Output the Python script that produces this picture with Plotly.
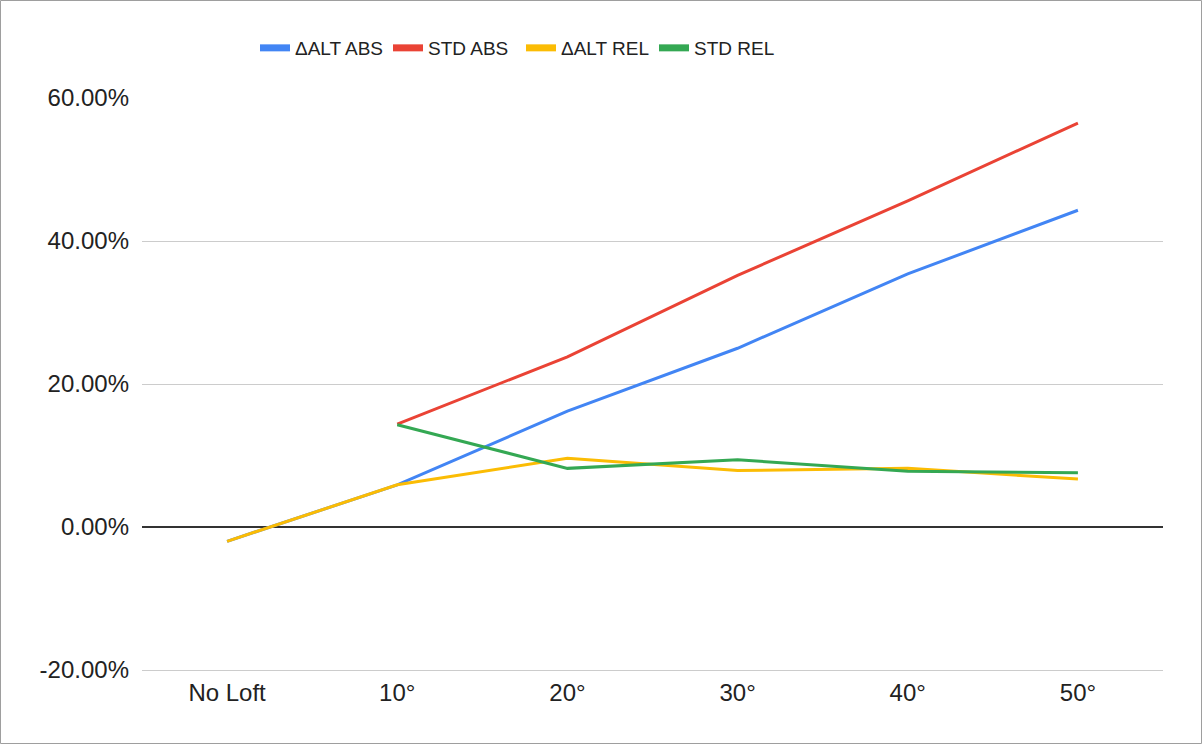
import plotly.graph_objects as go

categories = ["No Loft", "10°", "20°", "30°", "40°", "50°"]
dalt_abs = [-2.0, 5.9, 16.2, 25.0, 35.4, 44.3]
std_abs = [None, 14.4, 23.8, 35.2, 45.6, 56.5]
dalt_rel = [-2.0, 5.9, 9.6, 7.9, 8.2, 6.7]
std_rel = [None, 14.3, 8.2, 9.4, 7.8, 7.6]
y_ticks = [-20, 0, 20, 40, 60]
y_tick_labels = ["-20.00%", "0.00%", "20.00%", "40.00%", "60.00%"]

series = [
    ("ΔALT ABS", dalt_abs, "#4285F4"),
    ("STD ABS", std_abs, "#EA4335"),
    ("ΔALT REL", dalt_rel, "#FBBC04"),
    ("STD REL", std_rel, "#34A853"),
]

fig = go.Figure()
for name, vals, color in series:
    fig.add_trace(go.Scatter(
        x=categories, y=vals, name=name, mode="lines",
        line=dict(color=color, width=3), showlegend=False, legendgroup=name,
    ))
# legend entries (thick swatches like the reference)
for name, vals, color in series:
    fig.add_trace(go.Scatter(
        x=[None], y=[None], name=name, mode="lines",
        line=dict(color=color, width=7), legendgroup=name,
    ))

W, H = 1202, 744
L, R, T, B = 142, 39, 98, 74
pw, ph = W - L - R, H - T - B

fig.update_layout(
    width=W, height=H,
    margin=dict(l=L, r=R, t=T, b=B),
    paper_bgcolor="white", plot_bgcolor="white",
    font=dict(family="Liberation Sans, Arial, sans-serif", size=24, color="#222222"),
    showlegend=True,
    legend=dict(orientation="h", x=(521 - L) / pw, xanchor="center", y=1 + 50 / ph, yanchor="middle",
                font=dict(family="Liberation Sans, Arial, sans-serif", size=19, color="#222222"),
                itemwidth=30, entrywidth=88, entrywidthmode="pixels"),
    xaxis=dict(type="category", range=[-0.5, 5.5], showgrid=False,
               showline=True, linecolor="#cccccc", linewidth=1,
               ticks="", tickfont=dict(size=24), ticklabelstandoff=1),
    yaxis=dict(range=[-20, 60], tickvals=y_ticks, ticktext=y_tick_labels,
               showgrid=True, gridcolor="#cccccc", gridwidth=1,
               zeroline=True, zerolinecolor="#333333", zerolinewidth=2,
               showline=False, ticks="", tickfont=dict(size=24), ticklabelstandoff=12),
    shapes=[dict(type="rect", xref="paper", yref="paper",
                 x0=-(L - 0.5) / pw, x1=1 + (R - 0.5) / pw,
                 y0=-(B - 0.5) / ph, y1=1 + (T - 0.5) / ph,
                 line=dict(color="#9e9e9e", width=1), fillcolor="rgba(0,0,0,0)", layer="below")],
)

fig.write_html("out.html", post_script="document.body.style.margin='0';",
               config={"displayModeBar": False})
